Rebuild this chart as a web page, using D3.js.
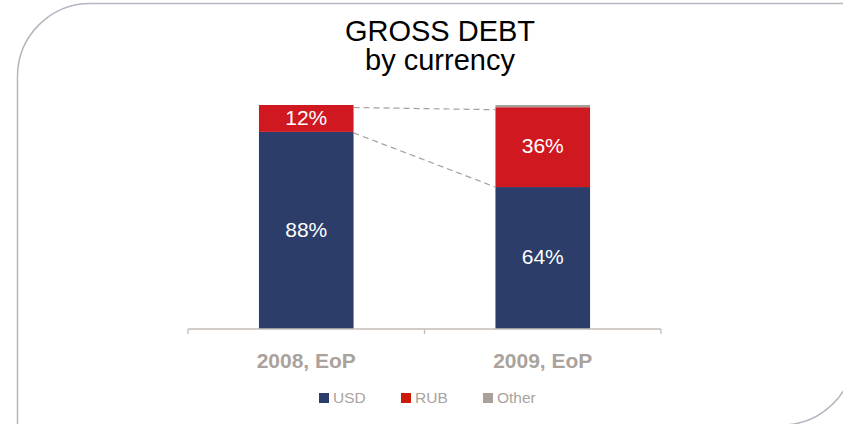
<!DOCTYPE html>
<html>
<head>
<meta charset="utf-8">
<script src="https://cdn.jsdelivr.net/npm/d3@7"></script>
<style>
  html, body { margin: 0; padding: 0; background: #fff; }
  svg { display: block; font-family: "Liberation Sans", Arial, sans-serif; }
</style>
</head>
<body>
<svg id="chart" width="843" height="424"></svg>
<script>
// Gross debt split by currency, share of total
const periods = ["2008, EoP", "2009, EoP"];
const currencies = ["USD", "RUB", "Other"];
const usdShare = [88, 64];
const rubShare = [12, 36];
const otherShare = [0, 1];
const titleLines = ["GROSS DEBT", "by currency"];

const colors = { USD: "#2b3d68", RUB: "#cf1820", Other: "#a8a09a" };
const legendColors = { USD: "#2b3d68", RUB: "#cc1a08", Other: "#a8a09a" };
const greyText = "#aaa29c";

const rows = periods.map((p, i) => ({
  period: p, USD: usdShare[i], RUB: rubShare[i], Other: otherShare[i]
}));

const svg = d3.select("#chart");

// Slide frame: rounded top-left and bottom-right corners
const frame = svg.append("g")
  .attr("fill", "none")
  .attr("stroke", "#b3b7c0")
  .attr("stroke-width", 1.5);
frame.append("path")
  .attr("d", "M17.5,430 L17.5,76.5 A73,73 0 0 1 90.5,3.5 L860,3.5");
frame.append("path")
  .attr("d", "M854.5,300 L854.5,352 A73,73 0 0 1 781.5,425 L700,425");

// Title
svg.append("text")
  .attr("x", 440).attr("y", 41)
  .attr("text-anchor", "middle")
  .attr("font-size", 29)
  .attr("fill", "#000")
  .selectAll("tspan")
  .data(titleLines)
  .join("tspan")
  .attr("x", 440)
  .attr("dy", (d, i) => i === 0 ? 0 : 29)
  .text(d => d);

const x = d3.scaleBand().domain(periods).range([188, 661]).padding(0);
const barW = x.bandwidth() * 0.4;
const barX = d => x(d) + (x.bandwidth() - barW) / 2;

const y = d3.scaleLinear().domain([0, 1]).range([329, 105]);

const series = d3.stack()
  .keys(currencies)
  .offset(d3.stackOffsetExpand)(rows);

// Stacked bars
const layers = svg.append("g").selectAll("g")
  .data(series)
  .join("g")
  .attr("fill", s => colors[s.key]);

layers.selectAll("rect")
  .data(s => s.map(d => ({ key: s.key, d })))
  .join("rect")
  .attr("x", o => barX(o.d.data.period))
  .attr("width", barW)
  .attr("y", o => y(o.d[1]))
  .attr("height", o => y(o.d[0]) - y(o.d[1]));

// Dashed connectors between the bars (tops of RUB and USD segments)
const rubLayer = series.find(s => s.key === "RUB");
const usdLayer = series.find(s => s.key === "USD");
const connectors = [
  [rubLayer[0][1], rubLayer[1][1]],
  [usdLayer[0][1], usdLayer[1][1]]
];
svg.append("g").selectAll("line")
  .data(connectors)
  .join("line")
  .attr("x1", barX(periods[0]) + barW)
  .attr("x2", barX(periods[1]))
  .attr("y1", (c, i) => y(c[0]) + (i === 0 ? 2.5 : 1))
  .attr("y2", (c, i) => y(c[1]) + (i === 0 ? 2.5 : 0))
  .attr("stroke", "#a89f98")
  .attr("stroke-width", 1.2)
  .attr("stroke-dasharray", "6,4");

// Value labels inside segments
const labelData = [];
series.filter(s => s.key !== "Other").forEach(s => {
  s.forEach(d => {
    const v = d.data[s.key];
    if (v > 0) labelData.push({ period: d.data.period, v, mid: (d[0] + d[1]) / 2 });
  });
});
svg.append("g").selectAll("text")
  .data(labelData)
  .join("text")
  .attr("x", d => barX(d.period) + barW / 2)
  .attr("y", d => y(d.mid) - 1)
  .attr("dy", "0.35em")
  .attr("text-anchor", "middle")
  .attr("font-size", 21)
  .attr("fill", "#fff")
  .text(d => d.v + "%");

// Category axis with ticks at band edges
const axisG = svg.append("g").attr("stroke", "#c4bdb8").attr("stroke-width", 1.3);
axisG.append("line")
  .attr("x1", x.range()[0]).attr("x2", x.range()[1])
  .attr("y1", y(0)).attr("y2", y(0));
const edges = periods.map(p => x(p)).concat([x.range()[1]]);
axisG.selectAll("line.tick")
  .data(edges)
  .join("line")
  .attr("class", "tick")
  .attr("x1", d => d).attr("x2", d => d)
  .attr("y1", y(0)).attr("y2", y(0) + 5);

svg.append("g").selectAll("text")
  .data(periods)
  .join("text")
  .attr("x", d => x(d) + x.bandwidth() / 2)
  .attr("y", 368)
  .attr("text-anchor", "middle")
  .attr("font-size", 21)
  .attr("font-weight", "bold")
  .attr("fill", greyText)
  .text(d => d);

// Legend
const legendX = [319, 401, 483];
const legend = svg.append("g").selectAll("g")
  .data(currencies)
  .join("g")
  .attr("transform", (d, i) => `translate(${legendX[i]},393)`);
legend.append("rect")
  .attr("width", 10).attr("height", 10)
  .attr("fill", d => legendColors[d]);
legend.append("text")
  .attr("x", 14).attr("y", 10)
  .attr("font-size", 15.5)
  .attr("fill", greyText)
  .text(d => d);
</script>
</body>
</html>
